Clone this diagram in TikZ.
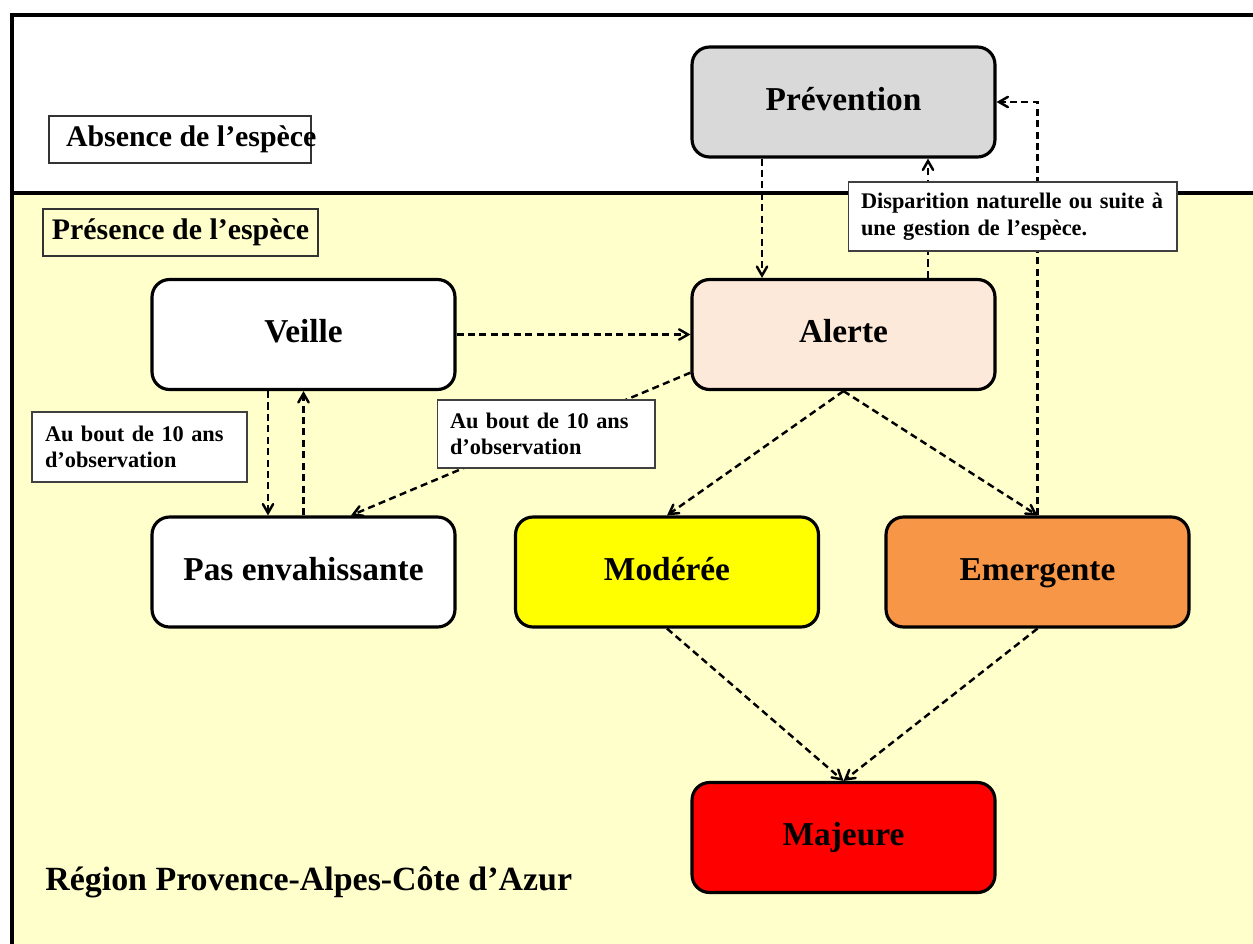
\documentclass[tikz,border=0pt]{standalone}
\usepackage{fontspec}
\setmainfont{Liberation Serif}
\usetikzlibrary{arrows}
\usetikzlibrary{calc}
\definecolor{fond}{RGB}{255, 255, 204}
\definecolor{cprev}{RGB}{217, 217, 217}
\definecolor{calerte}{RGB}{253, 233, 217}
\definecolor{cmoderee}{RGB}{255, 255, 0}
\definecolor{cemerg}{RGB}{247, 150, 70}
\definecolor{cmajeure}{RGB}{255, 0, 0}
\tikzset{etat/.style = {draw, line width = 1.8pt, rounded corners = 0.35cm,
                        minimum width = 6.06cm, minimum height = 2.2cm,
                        text height = 1.18em, text depth = 0.22em,
                        font = \fontsize{19}{22}\selectfont\bfseries}}
\tikzset{note/.style = {draw = black!75, line width = 0.6pt, fill = white, align = left,
                        inner xsep = 0.26cm, font = \fontsize{12.7}{14.5}\selectfont\bfseries}}
\tikzset{titre/.style = {draw = black!80, line width = 0.8pt, minimum height = 0.94cm,
                         font = \fontsize{17}{20}\selectfont\bfseries}}
\tikzset{lien/.style = {line width = 1.4pt, dash pattern = on 4pt off 2.5pt, ->, >=angle 60}}

\begin{document}
\begin{tikzpicture}[x = 0.02cm, y = -0.02cm]
    \clip (0, 0) rectangle (1253, 943);
    \fill [white] (0, 0) rectangle (1253, 943);

    % cadre
    \fill [fond] (12, 193) rectangle (1270, 960);
    \draw [line width = 2pt] (12, 960) -- (12, 15) -- (1270, 15);
    \draw [line width = 2pt] (12, 193) -- (1270, 193);

    \node [titre, fill = white, inner xsep = 0] (absence) at (180, 139.5)
      {\makebox[5.24cm][l]{\hspace{0.34cm}Absence de l'espèce}};
    \node [titre, fill = fond, minimum width = 5.5cm] (presence) at (180.5, 232.5) {Présence de l'espèce};

    % etats
    \node [etat, fill = cprev] (prevention) at (843.5, 102) {Prévention};
    \node [etat, fill = white] (veille) at (303.5, 334.5) {Veille};
    \node [etat, fill = calerte] (alerte) at (843.5, 334.5) {Alerte};
    \node [etat, fill = white] (pas) at (303.5, 572) {Pas envahissante};
    \node [etat, fill = cmoderee] (moderee) at (667, 572) {Modérée};
    \node [etat, fill = cemerg] (emergente) at (1037.5, 572) {Emergente};
    \node [etat, fill = cmajeure] (majeure) at (843.5, 837.5) {Majeure};

    \node [anchor = west, inner sep = 0, font = \fontsize{19.3}{22}\selectfont\bfseries]
      (region) at (45, 882) {Région Provence-Alpes-Côte d'Azur};

    % liens
    \draw [lien] ($(prevention.south) + (-81.5, 0)$) -- ($(alerte.north) + (-81.5, 0)$);
    \draw [lien] ($(alerte.north) + (84.5, 0)$) -- ($(prevention.south) + (84.5, 0)$);
    \draw [lien] (emergente.north) |- (prevention.east);
    \draw [lien] (veille.east) -- (alerte.west);
    \draw [lien] ($(veille.south) + (-35.5, 0)$) -- ($(pas.north) + (-35.5, 0)$);
    \draw [lien] (pas.north) -- (veille.south);
    \draw [lien] (alerte.194) -- (pas.50);
    \draw [lien] (alerte.south) -- (moderee.north);
    \draw [lien] (alerte.south) -- (emergente.north);
    \draw [lien] (moderee.south) -- (majeure.north);
    \draw [lien] (emergente.south) -- (majeure.north);

    % notes
    \node [note, text width = 3.78cm, minimum height = 1.4cm] (note1) at (139.5, 447)
      {Au bout de 10 ans\\d'observation};
    \node [note, text width = 3.84cm, minimum height = 1.36cm] (note2) at (546, 434)
      {Au bout de 10 ans\\d'observation};
    \node [note, text width = 6.06cm, minimum height = 1.38cm,
           font = \fontsize{12.7}{15.3}\selectfont\bfseries] (note3) at (1012.5, 216.5)
      {Disparition naturelle ou suite à\\une gestion de l'espèce.};
\end{tikzpicture}
\end{document}
